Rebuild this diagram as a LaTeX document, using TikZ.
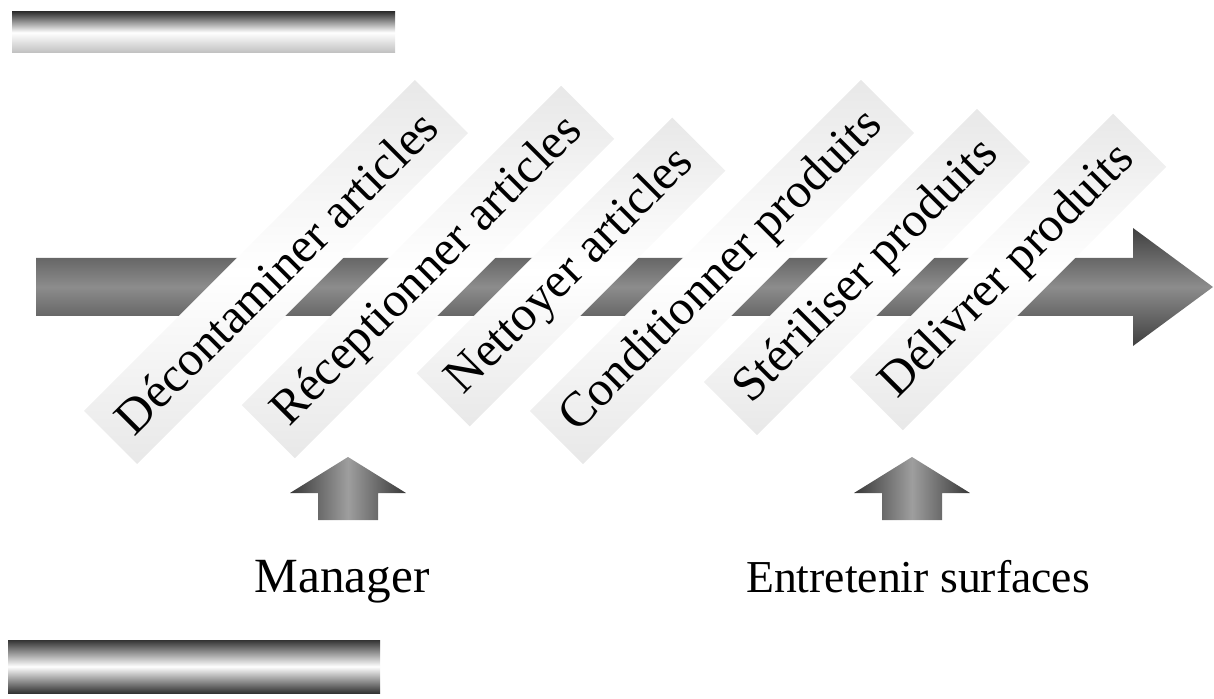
\documentclass[tikz,border=0pt]{standalone}
\usepackage{fontspec}
\setmainfont{Liberation Serif}
\tikzset{
  bandfill/.style={top color=black!75, bottom color=black!75, middle color=black!45},
  arrowfill/.style={left color=black!78, right color=black!78, middle color=black!38},
  stripe/.style={rotate=45, minimum height=1.5cm, inner xsep=0.35cm,
    top color=black!9, bottom color=black!9, middle color=white,
    font=\fontsize{28}{34}\selectfont},
  caption/.style={anchor=base},
}

\begin{document}
\begin{tikzpicture}[x=0.02cm,y=-0.02cm]
		%%%%% START %%%%%
		\useasboundingbox (0,0) rectangle (1214,699);
		
		\shade[top color=black!80, bottom color=black!25, middle color=white] (12,12) rectangle (395,53);
		\shade[top color=black!80, bottom color=black!80, middle color=white] (8,640) rectangle (380,693);
		
		% band with the big arrow
		\shade[bandfill] (36,258) -- (1133,258) -- (1133,228) -- (1213,287)
		  -- (1133,346) -- (1133,316) -- (36,316) -- cycle;
		
		% slanted steps
		\foreach \name/\cx/\txt in {decon/276/{Décontaminer articles},
		    recep/428/{Réceptionner articles}, nett/571/{Nettoyer articles},
		    cond/722/{Conditionner produits}, steril/867/{Stériliser produits},
		    deliv/1008/{Délivrer produits}}
		  \node[stripe] (\name) at (\cx,272) {\txt};
		
		% support arrows
		\foreach \cx in {348,912}
		  \shade[arrowfill, shift={(\cx,0)}] (-30,520) -- (-30,493) -- (-58,493) -- (0,457)
		    -- (58,493) -- (30,493) -- (30,520) -- cycle;
		
		\node[caption, font=\fontsize{28}{34}\selectfont] (manager) at (342,592) {Manager};
		\node[caption, font=\fontsize{26}{32}\selectfont] (entretien) at (918,592) {Entretenir surfaces};
		
		%%%%% END %%%%%
\end{tikzpicture}
\end{document}
